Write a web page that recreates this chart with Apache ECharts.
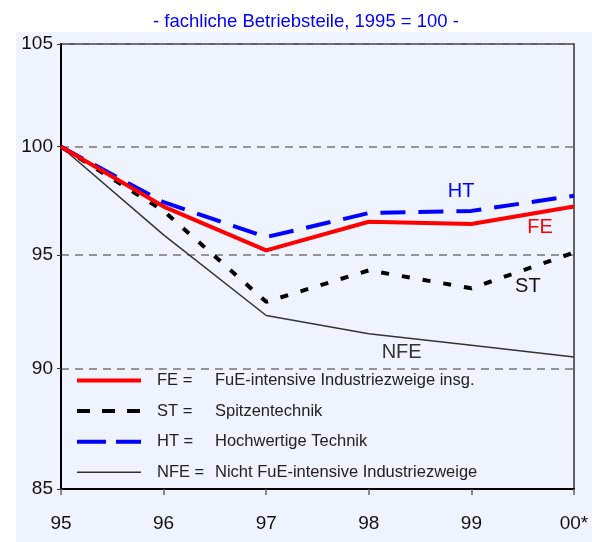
<!DOCTYPE html>
<html>
<head>
<meta charset="utf-8">
<script src="https://cdn.jsdelivr.net/npm/echarts@6/dist/echarts.min.js"></script>
<style>
  html, body { margin: 0; padding: 0; background: #fff; }
  #chart { width: 592px; height: 542px; }
</style>
</head>
<body>
<div id="chart"></div>
<script>
// data
const years = [1995, 1996, 1997, 1998, 1999, 2000]
const yearLabels = ['95', '96', '97', '98', '99', '00*']
const yTicks = [85, 90, 95, 100, 105]

const fe = [100, 97.2, 95.2, 96.5, 96.4, 97.2]
const st = [100, 97.0, 92.9, 94.3, 93.5, 95.1]
const ht = [100, 97.4, 95.8, 96.9, 97.0, 97.7]
const nfe = [100, 95.9, 92.3, 91.5, 91.0, 90.5]

const names = ['FE', 'ST', 'HT', 'NFE']
const descr = ['FuE-intensive Industriezweige insg.', 'Spitzentechnik', 'Hochwertige Technik', 'Nicht FuE-intensive Industriezweige']

// where the short series names sit (data space)
const tagPos = { HT: [1998.9, 97.9], FE: [1999.67, 96.24], ST: [1999.55, 93.58], NFE: [1998.32, 90.68] }

const font = '"Liberation Sans", Arial, sans-serif'
const bg = '#EEF3FE'

const pairs = arr => years.map((y, i) => [y, arr[i]])

function tag(name, color) {
  return {
    symbol: 'circle', symbolSize: 0, silent: true,
    label: { show: true, position: 'inside', formatter: name, color: color, fontFamily: font, fontSize: 20 },
    data: [{ coord: tagPos[name] }]
  }
}

const chart = echarts.init(document.getElementById('chart'))
chart.setOption({
  animation: false,
  backgroundColor: '#fff',
  title: {
    text: '- fachliche Betriebsteile, 1995 = 100 -',
    left: 148, top: 7,
    textStyle: { color: '#0000FF', fontSize: 18.5, fontWeight: 'normal', fontFamily: font }
  },
  graphic: [{
    type: 'rect', z: -10, silent: true,
    shape: { x: 16, y: 32, width: 576, height: 510 },
    style: { fill: bg }
  }],
  grid: { left: 61, right: 18, top: 44, bottom: 53, show: true, backgroundColor: bg, borderColor: '#333', borderWidth: 1.5 },
  legend: {
    orient: 'vertical', left: 75, top: 372, padding: 0,
    itemWidth: 64, itemHeight: 14, itemGap: 13.6,
    itemStyle: { color: 'transparent', borderWidth: 0, opacity: 0 },
    data: [
      { name: 'FE', lineStyle: { width: 4 } },
      { name: 'ST', lineStyle: { width: 4, type: [13, 12] } },
      { name: 'HT', lineStyle: { width: 4, type: [29, 10] } },
      { name: 'NFE', lineStyle: { width: 1.5 } }
    ],
    formatter: n => '{a|' + n + ' =}{b|' + descr[names.indexOf(n)] + '}',
    textStyle: {
      color: '#222', fontFamily: font, fontSize: 16.5,
      rich: {
        a: { width: 58, padding: [0, 0, 0, 11], fontFamily: font, fontSize: 16.5, color: '#222' },
        b: { fontFamily: font, fontSize: 16.5, color: '#222' }
      }
    }
  },
  xAxis: {
    type: 'value', min: 1995, max: 2000, interval: 1,
    axisLine: { show: true, lineStyle: { color: '#000', width: 2 } },
    axisTick: { show: true, length: 6, lineStyle: { color: '#666', width: 1.5 } },
    splitLine: { show: false },
    axisLabel: {
      margin: 25, color: '#111', fontFamily: font, fontSize: 19,
      formatter: v => yearLabels[years.indexOf(v)]
    }
  },
  yAxis: {
    type: 'log', logBase: 10, min: 85, max: 105,
    axisLine: { show: true, lineStyle: { color: '#000', width: 2 } },
    axisTick: { show: true, length: 4, customValues: yTicks, lineStyle: { color: '#333' } },
    axisLabel: { customValues: yTicks, margin: 8, color: '#111', fontFamily: font, fontSize: 19, formatter: v => String(Math.round(v)) },
    splitLine: { show: true, lineStyle: { color: '#777', type: [8, 6], width: 1.5 } }
  },
  series: [
    { name: 'FE', type: 'line', z: 5, data: pairs(fe), symbol: 'none', color: '#FF0000',
      lineStyle: { color: '#FF0000', width: 4 }, markPoint: tag('FE', '#FF0000') },
    { name: 'ST', type: 'line', z: 3, data: pairs(st), symbol: 'none', color: '#000',
      lineStyle: { color: '#000', width: 4, type: [8, 13] }, markPoint: tag('ST', '#111') },
    { name: 'HT', type: 'line', z: 4, data: pairs(ht), symbol: 'none', color: '#0000FF',
      lineStyle: { color: '#0000FF', width: 4, type: [25, 13] }, markPoint: tag('HT', '#0000FF') },
    { name: 'NFE', type: 'line', z: 2, data: pairs(nfe), symbol: 'none', color: '#333',
      lineStyle: { color: '#333', width: 1.5 }, markPoint: tag('NFE', '#333') }
  ]
})
</script>
</body>
</html>
